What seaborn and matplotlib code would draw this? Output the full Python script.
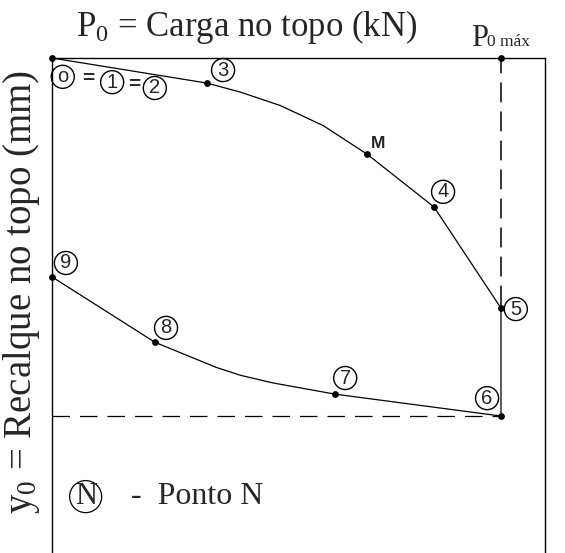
import matplotlib
matplotlib.use("Agg")
import matplotlib.pyplot as plt
import seaborn as sns
import pandas as pd

# Load-settlement path traced at the pile top (P0 in kN, y0 in mm)
path_load = [0.0, 34.5, 41.9, 50.8, 60.4, 70.2, 85.1, 100.0, 100.0, 63.0, 49.2, 42.0, 36.5, 22.9, 0.0]
path_settle = [0.0, 5.6, 7.6, 10.6, 15.1, 21.5, 33.3, 55.9, 80.0, 75.1, 72.6, 70.9, 69.1, 63.5, 48.9]

# Marked points of the cycle
point_names = ["0", "3", "M", "4", "5", "6", "7", "8", "9", "P0max"]
point_load = [0.0, 34.5, 70.2, 85.1, 100.0, 100.0, 63.0, 22.9, 0.0, 100.0]
point_settle = [0.0, 5.6, 21.5, 33.3, 55.9, 80.0, 75.1, 63.5, 48.9, 0.0]

p0_max = 100.0
y_residual = 80.0
y_p0max = 55.9

sns.set_theme(style="white")
plt.rcParams["font.family"] = ["Liberation Serif", "DejaVu Serif"]
plt.rcParams["mathtext.fontset"] = "custom"
plt.rcParams["mathtext.rm"] = "Liberation Serif"
plt.rcParams["mathtext.it"] = "Liberation Serif"

fig = plt.figure(figsize=(5.65, 5.53), dpi=100)
ax = fig.add_axes([0.092, 0.0, 0.8726, 0.8951])

path_df = pd.DataFrame({"P0": path_load, "y0": path_settle})
pts_df = pd.DataFrame({"P0": point_load, "y0": point_settle, "name": point_names})

sns.lineplot(data=path_df, x="P0", y="y0", sort=False, estimator=None,
             color="black", linewidth=0.9, ax=ax)
sns.scatterplot(data=pts_df, x="P0", y="y0", color="black", s=24,
                edgecolor="black", linewidth=0, ax=ax, zorder=5, clip_on=False)

# Reference dashed lines
ax.plot([p0_max, p0_max], [0, y_p0max], color="black", lw=1.1, linestyle=(3, (13, 6)))
ax.plot([0, p0_max], [y_residual, y_residual], color="black", lw=0.9,
        linestyle=(0, (14, 8)))

ax.set_xlim(0, 109.8)
ax.set_ylim(110.6, 0)
ax.set_xticks([])
ax.set_yticks([])
ax.set_xlabel("")
ax.set_ylabel("")
for side in ["left", "top", "right"]:
    ax.spines[side].set_visible(True)
    ax.spines[side].set_color("black")
    ax.spines[side].set_linewidth(1.0)
ax.spines["bottom"].set_visible(False)

# Circled point labels
circ = dict(boxstyle="circle,pad=0.1", fc="none", ec="black", lw=1.0)
num_font = dict(family="Liberation Sans", fontsize=14.5, ha="center", va="center")
circled = [("o", 2.4, 4.2), ("1", 13.4, 5.4), ("2", 22.9, 6.7), ("3", 38.1, 2.7),
           ("4", 87.1, 29.9), ("5", 103.3, 56.1), ("6", 96.9, 76.0),
           ("7", 65.3, 71.5), ("8", 25.4, 60.3), ("9", 3.1, 45.8)]
for txt, x, y in circled:
    ax.text(x, y, txt, bbox=circ, **num_font)
ax.text(8.0, 4.6, "=", family="Liberation Sans", fontsize=15, fontweight="bold",
        ha="center", va="center")
ax.text(18.3, 6.0, "=", family="Liberation Sans", fontsize=15, fontweight="bold",
        ha="center", va="center")
ax.text(72.6, 19.0, "M", family="Liberation Sans", fontsize=12.5, fontweight="bold",
        ha="center", va="center")

# Legend note
ax.text(7.5, 98.0, "N", fontsize=22, ha="center", va="center",
        bbox=dict(boxstyle="circle,pad=0.05", fc="none", ec="black", lw=0.9))
ax.text(17.5, 98.0, "-  Ponto N", fontsize=23, ha="left", va="center")

# Axis titles
fig.text(247 / 565, 1 - 27 / 553, r"P$_0$ = Carga no topo (kN)", fontsize=25,
         ha="center", va="center")
fig.text(22 / 565, 1 - 292 / 553, r"y$_0$ = Recalque no topo (mm)", fontsize=28,
         ha="center", va="center", rotation=90)
fig.text(471 / 565, 1 - 46 / 553, "P", fontsize=22, ha="left", va="baseline")
fig.text(487 / 565, 1 - 46 / 553, "0 máx", fontsize=12.5, ha="left", va="baseline")

fig.savefig("out.png", dpi=100)
